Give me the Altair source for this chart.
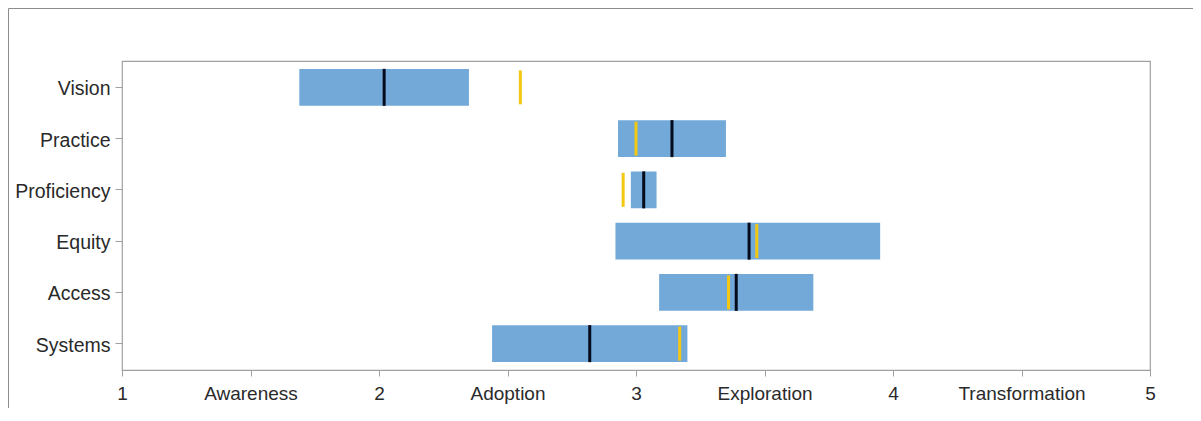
import altair as alt
import pandas as pd

categories = ["Vision", "Practice", "Proficiency", "Equity", "Access", "Systems"]
range_low = [1.69, 2.93, 2.98, 2.92, 3.09, 2.44]
range_high = [2.35, 3.35, 3.08, 3.95, 3.69, 3.20]
black_marker = [2.02, 3.14, 3.03, 3.44, 3.39, 2.82]
yellow_marker = [2.55, 3.00, 2.95, 3.47, 3.36, 3.17]
tick_values = [1, 1.5, 2, 2.5, 3, 3.5, 4, 4.5, 5]
tick_labels = ["1", "Awareness", "2", "Adoption", "3", "Exploration", "4", "Transformation", "5"]

df = pd.DataFrame({
    "category": categories,
    "low": range_low,
    "high": range_high,
    "black": black_marker,
    "yellow": yellow_marker,
})

W, H = 1028, 309
FONT = "Liberation Sans"

label_expr = "".join(
    f"datum.value == {v} ? '{t}' : " for v, t in zip(tick_values, tick_labels)
) + "datum.label"

xscale = alt.Scale(domain=[1, 5], nice=False, zero=False)
yscale = alt.Scale(domain=categories, paddingInner=0.284, paddingOuter=0.156)

x_axis = alt.Axis(values=tick_values, labelExpr=label_expr, title=None, grid=False,
                  domain=False, tickColor="#a0a0a0", tickSize=6, labelPadding=8,
                  labelFlush=False, labelFont=FONT, labelFontSize=19,
                  labelColor="#2a2a2a")
y_axis = alt.Axis(title=None, grid=False, domain=False, tickColor="#a0a0a0",
                  tickSize=7, labelPadding=5, labelFont=FONT, labelFontSize=19.5,
                  labelColor="#2a2a2a", labelOffset=2)

base = alt.Chart(df)

bars = base.mark_bar(color="#72A9D9", opacity=1).encode(
    x=alt.X("low:Q", scale=xscale, axis=x_axis),
    x2="high:Q",
    y=alt.Y("category:N", scale=yscale, sort=categories, axis=y_axis),
)

black_ticks = base.mark_tick(color="#060b1c", thickness=3, size=37, opacity=1).encode(
    x=alt.X("black:Q", scale=xscale),
    y=alt.Y("category:N", scale=yscale, sort=categories),
)

yellow_ticks = base.mark_tick(color="#F2C811", thickness=3, size=34, opacity=1).encode(
    x=alt.X("yellow:Q", scale=xscale),
    y=alt.Y("category:N", scale=yscale, sort=categories),
)

frame = alt.Chart(pd.DataFrame({"f": [0]})).mark_rect(
    fillOpacity=0, stroke="#8c8c8c", strokeWidth=1, clip=False
).encode(
    x=alt.value(-113.5), x2=alt.value(1200),
    y=alt.value(-52.5), y2=alt.value(420),
)

chart = alt.layer(bars, black_ticks, yellow_ticks, frame).properties(
    width=W, height=H,
    autosize=alt.AutoSizeParams(type="none"),
    padding={"left": 114, "top": 53, "right": 43, "bottom": 38},
    background="white",
).configure_view(stroke="#a0a0a0", strokeWidth=1.2)

chart.save("out.html", embed_options={"renderer": "svg", "actions": False})
